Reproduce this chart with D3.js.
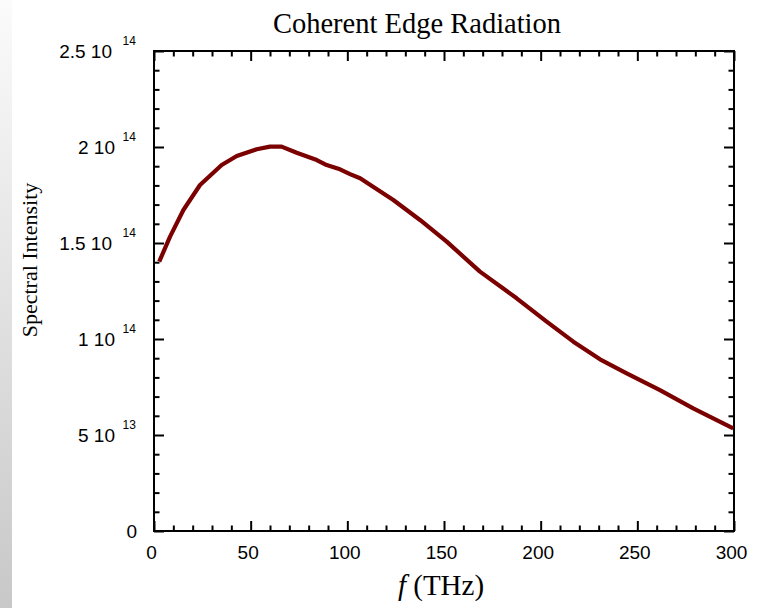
<!DOCTYPE html>
<html>
<head>
<meta charset="utf-8">
<script src="https://cdn.jsdelivr.net/npm/d3@7"></script>
<style>
  html, body { margin: 0; padding: 0; background: #fff; }
  svg { display: block; }
</style>
</head>
<body>
<script>
// ---- data ----
const freq = [2.7, 8.3, 15.2, 23.8, 35.0, 42.8, 53.1, 60, 66, 73.8, 84.2, 89.3, 96.2, 101.4, 106.6,
  123.8, 137.6, 151.4, 168.6, 187.6, 203.1, 216.9, 230.7, 244.5, 261.7, 278.9, 299.6];
const intensity = [1.403e14, 1.533e14, 1.672e14, 1.802e14, 1.906e14, 1.953e14, 1.988e14, 2.002e14, 2.002e14,
  1.970e14, 1.932e14, 1.906e14, 1.884e14, 1.859e14, 1.837e14, 1.724e14, 1.620e14, 1.507e14, 1.351e14,
  1.212e14, 1.090e14, 0.986e14, 0.894e14, 0.821e14, 0.734e14, 0.639e14, 0.535e14];
const xTicks = [0, 50, 100, 150, 200, 250, 300];
const yTicks = [0, 0.5e14, 1e14, 1.5e14, 2e14, 2.5e14];
const yMantissa = ["0", "5", "1", "1.5", "2", "2.5"];
const yExponent = ["", "13", "14", "14", "14", "14"];
const titleText = "Coherent Edge Radiation";
const yLabelText = "Spectral Intensity";

// ---- layout ----
const W = 757, H = 608;
const L = 154, R = 734, T = 51, B = 531;

const svg = d3.select("body").append("svg").attr("width", W).attr("height", H);

// left gradient strip
const defs = svg.append("defs");
const grad = defs.append("linearGradient").attr("id", "strip").attr("x1", 0).attr("y1", 0).attr("x2", 0).attr("y2", 1);
grad.append("stop").attr("offset", "0%").attr("stop-color", "#fbfbfb");
grad.append("stop").attr("offset", "100%").attr("stop-color", "#c8c8c8");
svg.append("rect").attr("x", 0).attr("y", 0).attr("width", 12).attr("height", H).attr("fill", "url(#strip)");

const x = d3.scaleLinear().domain([0, 300]).range([L, R]);
const y = d3.scaleLinear().domain([0, 2.5e14]).range([B, T]);

const xMinor = d3.range(0, 301, 10).filter(v => v % 50 !== 0);
const yMinor = d3.range(0, 26).map(v => v * 1e13).filter((v, i) => i % 5 !== 0);

function styleAxis(g) {
  g.select(".domain").remove();
  g.selectAll(".tick line").attr("stroke", "#000").attr("stroke-width", 2);
  g.selectAll(".tick text").remove();
}

const M = 10, m = 5.5;
// bottom (ticks inward)
svg.append("g").attr("transform", `translate(0,${B})`).call(d3.axisTop(x).tickValues(xTicks).tickSize(M)).call(styleAxis);
svg.append("g").attr("transform", `translate(0,${B})`).call(d3.axisTop(x).tickValues(xMinor).tickSize(m)).call(styleAxis);
// top
svg.append("g").attr("transform", `translate(0,${T})`).call(d3.axisBottom(x).tickValues(xTicks).tickSize(M)).call(styleAxis);
svg.append("g").attr("transform", `translate(0,${T})`).call(d3.axisBottom(x).tickValues(xMinor).tickSize(m)).call(styleAxis);
// left
svg.append("g").attr("transform", `translate(${L},0)`).call(d3.axisRight(y).tickValues(yTicks).tickSize(M)).call(styleAxis);
svg.append("g").attr("transform", `translate(${L},0)`).call(d3.axisRight(y).tickValues(yMinor).tickSize(m)).call(styleAxis);
// right
svg.append("g").attr("transform", `translate(${R},0)`).call(d3.axisLeft(y).tickValues(yTicks).tickSize(M)).call(styleAxis);
svg.append("g").attr("transform", `translate(${R},0)`).call(d3.axisLeft(y).tickValues(yMinor).tickSize(m)).call(styleAxis);

// frame
svg.append("rect").attr("x", L).attr("y", T).attr("width", R - L).attr("height", B - T)
  .attr("fill", "none").attr("stroke", "#000").attr("stroke-width", 2);

// x tick labels
const xLab = svg.append("g").attr("transform", `translate(-3,${B})`)
  .call(d3.axisBottom(x).tickValues(xTicks).tickSize(0).tickPadding(15).tickFormat(d3.format("d")));
xLab.select(".domain").remove();
xLab.selectAll("text").attr("font-family", "'Liberation Sans', Arial, sans-serif").attr("font-size", 19).attr("fill", "#000");

// y tick labels with superscripts
const yl = svg.append("g").attr("font-family", "'Liberation Sans', Arial, sans-serif").attr("fill", "#000");
yTicks.forEach((v, i) => {
  if (yExponent[i] === "") {
    yl.append("text").attr("x", 137).attr("y", y(v) + 6.5).attr("text-anchor", "end")
      .attr("font-size", 19).text(yMantissa[i]);
  } else {
    yl.append("text").attr("x", yMantissa[i].includes(".") ? 112 : 115).attr("y", y(v) + 6.5)
      .attr("text-anchor", "end").attr("font-size", 19).text(yMantissa[i] + " 10");
    yl.append("text").attr("x", 122.5).attr("y", y(v) - 6)
      .attr("text-anchor", "start").attr("font-size", 12).text(yExponent[i]);
  }
});

// curve
const pts = freq.map((f, i) => [f, intensity[i]]);
svg.append("path").datum(pts)
  .attr("fill", "none").attr("stroke", "#7b0000").attr("stroke-width", 4.2)
  .attr("stroke-linejoin", "round").attr("stroke-linecap", "butt")
  .attr("d", d3.line().x(d => x(d[0])).y(d => y(d[1])).curve(d3.curveLinear));

// title
svg.append("text").attr("x", 417).attr("y", 33).attr("text-anchor", "middle")
  .attr("font-family", "'Liberation Serif', 'Times New Roman', serif").attr("font-size", 28.5).attr("fill", "#000")
  .text(titleText);

// y axis label
svg.append("text").attr("transform", `translate(37,260) rotate(-90)`).attr("text-anchor", "middle")
  .attr("font-family", "'Liberation Serif', 'Times New Roman', serif").attr("font-size", 22).attr("fill", "#000")
  .text(yLabelText);

// x axis label
const xl = svg.append("text").attr("x", 441).attr("y", 595).attr("text-anchor", "middle")
  .attr("font-family", "'Liberation Serif', 'Times New Roman', serif").attr("font-size", 29).attr("fill", "#000");
xl.append("tspan").attr("font-style", "italic").text("f");
xl.append("tspan").text(" (THz)");
</script>
</body>
</html>
